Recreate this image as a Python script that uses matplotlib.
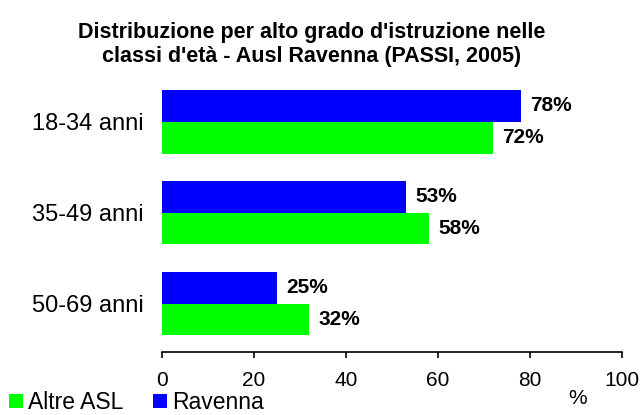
import matplotlib.pyplot as plt
import numpy as np

plt.rcParams['font.family'] = ['Liberation Sans', 'DejaVu Sans']

categories = ['18-34 anni', '35-49 anni', '50-69 anni']
ravenna = [78, 53, 25]
altre_asl = [72, 58, 32]
xticks = [0, 20, 40, 60, 80, 100]

fig = plt.figure(figsize=(6.4, 4.15), dpi=100)
ax = fig.add_axes([0.253, 0.152, 0.719, 0.671])

y = np.arange(len(categories))
h = 0.35
ax.barh(y - h / 2, ravenna, height=h, color='#0000ff', label='Ravenna')
ax.barh(y + h / 2, altre_asl, height=h, color='#00ff00', label='Altre ASL')

for i in range(len(categories)):
    ax.text(ravenna[i] + 2, y[i] - h / 2, f'{ravenna[i]}%', va='center', ha='left',
            fontsize=15, fontweight='bold')
    ax.text(altre_asl[i] + 2, y[i] + h / 2, f'{altre_asl[i]}%', va='center', ha='left',
            fontsize=15, fontweight='bold')

ax.set_xlim(0, 100)
ax.set_ylim(2.533, -0.533)
ax.set_xticks(xticks)
ax.set_yticks(y)
ax.set_yticklabels(categories, fontsize=17)
ax.tick_params(axis='y', length=0, pad=13)
ax.tick_params(axis='x', length=4, width=1.2, pad=10, labelsize=15)
for s in ['top', 'right', 'left']:
    ax.spines[s].set_visible(False)
ax.spines['bottom'].set_linewidth(1.2)

fig.text(0.487, 0.892, "Distribuzione per alto grado d'istruzione nelle\nclassi d'età - Ausl Ravenna (PASSI, 2005)",
         ha='center', va='center', fontsize=15.5, fontweight='bold', linespacing=1.2)
fig.text(0.902, 0.04, '%', ha='center', va='center', fontsize=15)

handles, labels = ax.get_legend_handles_labels()
fig.legend(handles[::-1], labels[::-1], loc='lower left', bbox_to_anchor=(0.0125, 0.0), ncol=2,
           frameon=False, fontsize=16.5, handlelength=0.62, handleheight=0.55, handletextpad=0.2,
           columnspacing=1.3, borderaxespad=0.0, borderpad=0.05)

fig.savefig('out.png', dpi=100)
